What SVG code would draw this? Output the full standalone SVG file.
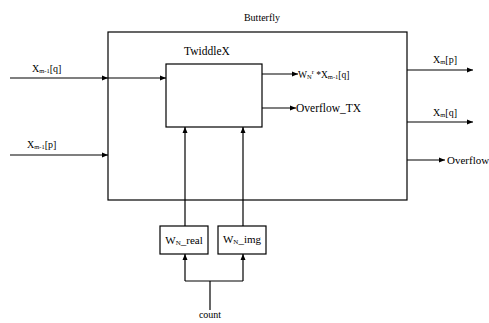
<svg xmlns="http://www.w3.org/2000/svg" width="489" height="323" viewBox="0 0 489 323">
<style>
text{font-family:"Liberation Serif","Times New Roman",serif;fill:#000}
.box{fill:#fff;stroke:#000;stroke-width:1.2}
.ln{fill:none;stroke:#000;stroke-width:1.2}
.s10{font-size:10px}
.sub{font-size:6.5px}
</style>
<defs>
<marker id="ah" viewBox="0 0 6 6" refX="6" refY="3" markerWidth="6" markerHeight="6" markerUnits="userSpaceOnUse" orient="auto">
<path d="M0,0.5 L6,3 L0,5.5 Z" fill="#000"/>
</marker>
</defs>
<rect width="489" height="323" fill="#fff"/>
<g id="butterfly">
<rect class="box" x="108" y="32" width="299" height="168"/>
<text x="262" y="21" font-size="10" text-anchor="middle">Butterfly</text>
</g>
<g id="twiddlex">
<rect class="box" x="166" y="64" width="96" height="63"/>
<text x="207" y="55" font-size="11.5" text-anchor="middle">TwiddleX</text>
</g>
<g id="wn_real">
<rect class="box" x="160" y="226" width="48" height="28"/>
<text x="184" y="244" font-size="11" text-anchor="middle">W<tspan font-size="7" dy="1">N</tspan><tspan dy="-1">_real</tspan></text>
</g>
<g id="wn_img">
<rect class="box" x="218" y="226" width="48" height="28"/>
<text x="242" y="243" font-size="11" text-anchor="middle">W<tspan font-size="7" dy="1">N</tspan><tspan dy="-1">_img</tspan></text>
</g>
<g id="connectors">
<line class="ln" x1="10" y1="78" x2="108" y2="78" marker-end="url(#ah)"/>
<line class="ln" x1="108" y1="78" x2="166" y2="78" marker-end="url(#ah)"/>
<line class="ln" x1="10" y1="155" x2="108" y2="155" marker-end="url(#ah)"/>
<line class="ln" x1="262" y1="74" x2="298" y2="74" marker-end="url(#ah)"/>
<line class="ln" x1="262" y1="108" x2="296" y2="108" marker-end="url(#ah)"/>
<line class="ln" x1="407" y1="70" x2="473" y2="70" marker-end="url(#ah)"/>
<line class="ln" x1="407" y1="122" x2="473" y2="122" marker-end="url(#ah)"/>
<line class="ln" x1="407" y1="160" x2="445" y2="160" marker-end="url(#ah)"/>
<line class="ln" x1="185" y1="226" x2="185" y2="127" marker-end="url(#ah)"/>
<line class="ln" x1="243" y1="226" x2="243" y2="127" marker-end="url(#ah)"/>
<polyline class="ln" points="185,281 243,281"/>
<line class="ln" x1="185" y1="281" x2="185" y2="254" marker-end="url(#ah)"/>
<line class="ln" x1="243" y1="281" x2="243" y2="254" marker-end="url(#ah)"/>
<line class="ln" x1="210" y1="281" x2="210" y2="310"/>
</g>
<g id="labels">
<text x="32" y="72" class="s10">X<tspan class="sub" dy="1">m-1</tspan><tspan dy="-1">[q]</tspan></text>
<text x="27" y="148" class="s10">X<tspan class="sub" dy="1">m-1</tspan><tspan dy="-1">[p]</tspan></text>
<text x="298" y="78" font-size="9.5">W<tspan class="sub" dy="1">N</tspan><tspan class="sub" dy="-5">r</tspan><tspan dy="4"> *X</tspan><tspan class="sub" dy="1">m-1</tspan><tspan dy="-1">[q]</tspan></text>
<text x="296" y="112" font-size="11.5">Overflow_TX</text>
<text x="433" y="63" class="s10">X<tspan class="sub" dy="1">m</tspan><tspan dy="-1">[p]</tspan></text>
<text x="433" y="116" class="s10">X<tspan class="sub" dy="1">m</tspan><tspan dy="-1">[q]</tspan></text>
<text x="447" y="164" font-size="11">Overflow</text>
<text x="210" y="318" class="s10" text-anchor="middle">count</text>
</g>
</svg>
